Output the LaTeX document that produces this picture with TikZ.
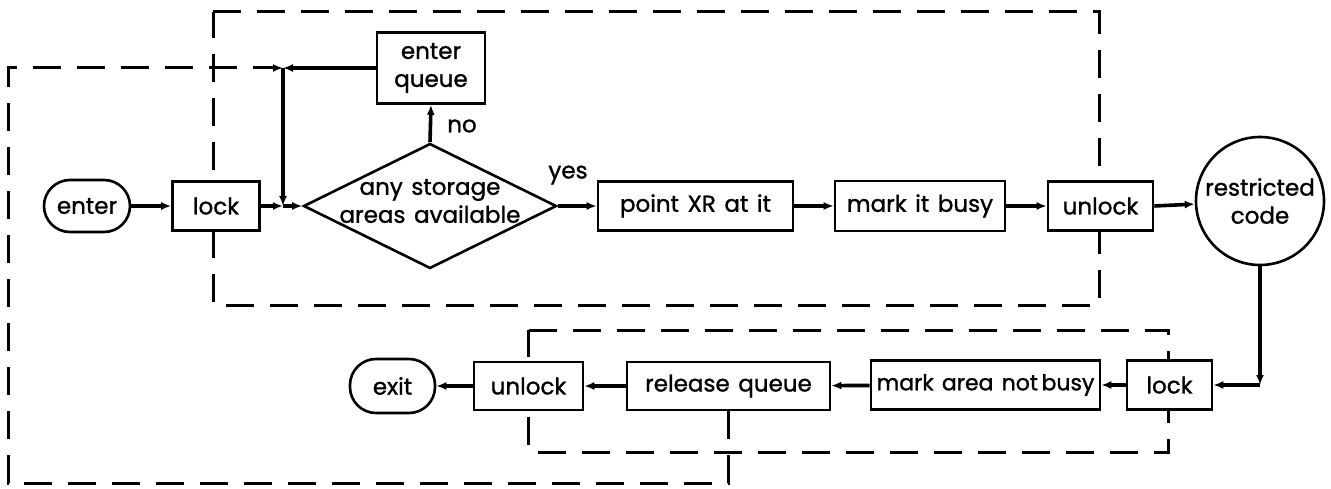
\documentclass[tikz,border=0pt]{standalone}
\usepackage{fontspec}
\setmainfont{Poppins}[FakeBold=1.2,WordSpace=1.4]
\usetikzlibrary{arrows.meta,shapes.geometric,backgrounds,calc}

\begin{document}
\begin{tikzpicture}[x=1pt,y=-1pt,
  font=\fontsize{23}{28}\selectfont,
  box/.style={draw,line width=2.6pt,fill=white,rectangle,minimum height=49pt,inner sep=0pt},
  term/.style={draw,line width=2.6pt,fill=white,rounded corners=26pt,minimum width=86pt,minimum height=52pt,inner sep=0pt},
  flow/.style={line width=3.6pt,-{Latex[length=10pt,width=8pt]}},
  frame/.style={line width=3pt,dash pattern=on 28pt off 16pt},
]
\useasboundingbox (0,0) rectangle (1331,489);

% upper row
\node[term] (enter) at (87,206) {enter};
\node[box,minimum width=87pt] (lock) at (216,206) {lock};
\coordinate (jmid) at (283,206);
\coordinate (jtop) at (283,68);
\node[draw,diamond,line width=2.6pt,fill=white,minimum width=253pt,minimum height=125pt,inner sep=0pt] (dia) at (430,206) {};
\node[align=center,inner sep=0pt] (diat) at (430,201) {any storage\\areas available};
\node[box,minimum width=108pt,minimum height=71pt,align=center] (eq) at (431,68) {enter\\queue};
\node[box,minimum width=195pt] (pxr) at (695.5,206) {point XR at it};
\node[box,minimum width=170pt,minimum height=50pt] (mib) at (920,206) {mark it busy};
\node[box,minimum width=105pt] (unl) at (1100.5,206) {unlock};
\node[draw,circle,line width=2.6pt,fill=white,minimum size=128pt,inner sep=0pt,align=center] (rc) at (1260,201) {restricted\\code};

% lower row
\node[box,minimum width=85pt] (lockb) at (1169.5,385) {lock};
\node[box,minimum width=229pt,font=\fontsize{22}{28}\selectfont] (manb) at (985.5,385) {mark area not\,busy};
\node[box,minimum width=203pt,minimum height=48pt] (relq) at (728.5,386) {release queue};
\node[box,minimum width=109pt,minimum height=48pt] (unlb) at (528.5,386) {unlock};
\node[term,minimum width=85pt,minimum height=54pt] (exit) at (392.5,386) {exit};

% critical-section frames, behind the boxes
\begin{pgfonlayer}{background}
  \draw[frame] (213,12) -- (1099,12) -- (1099,305) -- (213,305) -- cycle;
  \draw[frame] (528.5,330) -- (1168,330) -- (1168,452) -- (528.5,452) -- cycle;
\end{pgfonlayer}

% connectors
\draw[flow] (enter) -- (lock);
\draw[flow] (lock) -- (jmid);
\draw[flow] (jmid) -- (dia.west);
\draw[flow] (jtop) -- (jmid);
\draw[flow] (eq.west) -- (jtop);
\draw[flow] (dia.north) -- (eq.south);
\node (no) at (462,126) {no};
\draw[flow] (dia.east) -- (pxr.west);
\node (yes) at (568,175) {yes};
\draw[flow] (pxr) -- (mib);
\draw[flow] (mib) -- (unl);
\draw[flow] (unl.east) -- (rc);
\coordinate (corner) at (rc.south |- lockb.east);
\draw[flow] (rc.south) -- (corner);
\draw[flow] (corner) -- (lockb.east);
\draw[flow] (lockb) -- (manb);
\draw[flow] (manb) -- (relq);
\draw[flow] (relq) -- (unlb);
\draw[flow] (unlb) -- (exit);

% return path through the queue
\draw[frame,-{Latex[length=10pt,width=8pt]}] (relq.south) -- (relq.south |- 0,483) -| (8,68) -- (jtop);
\end{tikzpicture}
\end{document}
